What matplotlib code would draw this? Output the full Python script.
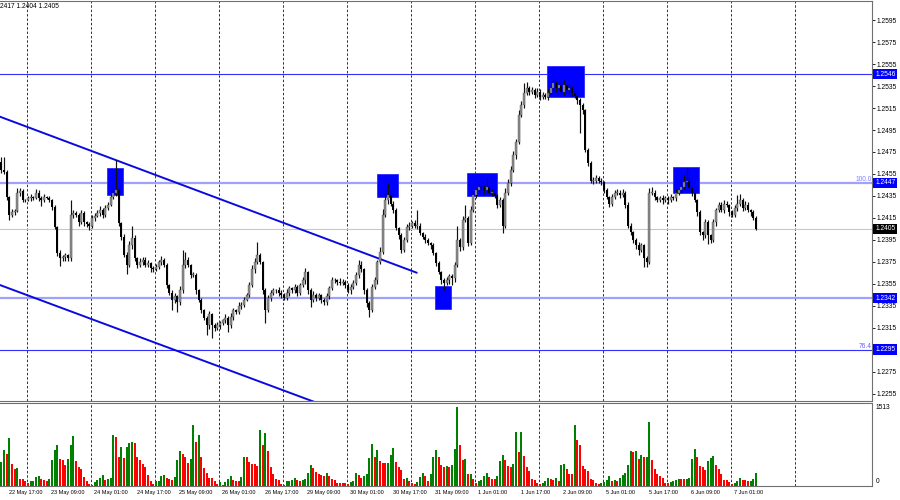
import numpy as np
import matplotlib
matplotlib.use("Agg")
import matplotlib.pyplot as plt
import matplotlib.transforms as mtransforms
from matplotlib import font_manager
from matplotlib.patches import Rectangle

# GBPUSD H1, 22 May 15:00 .. 7 Jun 11:00 (server time)
# prices kept in pips above 1.2000
first_open = 466
close_pips = [
    459, 457, 434, 418, 420, 421, 438, 439, 431, 431,
    433, 434, 433, 438, 433, 431, 434, 433, 431, 425,
    407, 383, 378, 379, 381, 378, 418, 419, 418, 411,
    419, 411, 409, 408, 415, 417, 419, 422, 418, 424,
    427, 434, 438, 440, 410, 398, 381, 372, 390, 397,
    378, 372, 375, 377, 372, 374, 369, 368, 370, 375,
    377, 372, 354, 347, 340, 344, 338, 349, 372, 377,
    372, 363, 363, 349, 340, 331, 324, 317, 327, 317,
    315, 317, 319, 322, 324, 317, 325, 331, 329, 335,
    336, 340, 345, 354, 368, 375, 381, 375, 349, 331,
    342, 347, 349, 349, 347, 345, 342, 347, 351, 349,
    352, 347, 354, 358, 366, 349, 340, 345, 342, 345,
    340, 338, 344, 351, 358, 358, 357, 356, 357, 354,
    349, 352, 356, 363, 372, 368, 349, 337, 331, 352,
    358, 375, 384, 418, 431, 436, 428, 422, 406, 399,
    386, 395, 407, 408, 410, 408, 408, 401, 398, 395,
    392, 390, 383, 374, 366, 358, 356, 358, 362, 360,
    372, 395, 388, 413, 415, 392, 422, 436, 440, 443,
    442, 440, 443, 438, 438, 435, 427, 431, 408, 438,
    447, 459, 472, 484, 509, 518, 529, 533, 530, 531,
    527, 530, 525, 527, 525, 529, 533, 538, 533, 536,
    530, 536, 531, 533, 529, 526, 522, 518, 513, 477,
    465, 449, 449, 451, 449, 448, 440, 434, 428, 434,
    438, 438, 436, 438, 427, 408, 402, 395, 390, 386,
    390, 378, 375, 438, 438, 434, 431, 433, 431, 433,
    431, 434, 433, 438, 440, 443, 448, 449, 442, 438,
    431, 420, 402, 399, 411, 399, 395, 411, 422, 427,
    422, 428, 427, 420, 418, 424, 428, 431, 424, 427,
    422, 420, 415, 405]

wick_up = [
    4, 11, 2, 1, 3, 2, 4, 3, 2, 1,
    2, 3, 1, 3, 2, 2, 3, 1, 2, 1,
    2, 1, 3, 2, 2, 1, 13, 3, 2, 1,
    3, 2, 1, 2, 3, 2, 3, 4, 2, 3,
    2, 3, 4, 28, 2, 1, 2, 3, 4, 11,
    2, 1, 3, 2, 2, 3, 1, 2, 3, 2,
    3, 1, 2, 1, 2, 3, 1, 4, 14, 7,
    2, 1, 3, 2, 1, 2, 1, 2, 3, 1,
    2, 3, 2, 1, 3, 2, 3, 2, 1, 3,
    2, 3, 2, 3, 4, 3, 12, 2, 1, 2,
    3, 2, 2, 1, 3, 2, 2, 3, 2, 1,
    3, 2, 2, 3, 3, 1, 2, 3, 2, 2,
    1, 2, 3, 2, 3, 2, 1, 3, 2, 1,
    2, 3, 2, 3, 5, 4, 1, 2, 2, 3,
    3, 2, 4, 5, 9, 11, 4, 2, 2, 1,
    2, 3, 2, 3, 2, 3, 14, 2, 1, 2,
    2, 1, 2, 1, 2, 1, 2, 3, 2, 2,
    3, 13, 2, 4, 12, 2, 4, 3, 2, 3,
    2, 3, 8, 2, 3, 1, 2, 3, 2, 4,
    3, 3, 4, 3, 4, 3, 9, 6, 2, 3,
    2, 3, 2, 3, 2, 3, 3, 3, 2, 3,
    2, 5, 2, 3, 2, 2, 1, 2, 2, 1,
    2, 2, 3, 3, 2, 2, 1, 2, 1, 3,
    2, 3, 2, 3, 1, 2, 2, 1, 2, 3,
    2, 1, 2, 4, 5, 2, 1, 2, 3, 2,
    2, 3, 1, 3, 2, 8, 6, 11, 2, 1,
    2, 1, 2, 1, 3, 2, 1, 3, 2, 2,
    2, 3, 2, 1, 2, 3, 8, 6, 2, 3,
    2, 1, 2, 2]

wick_dn = [
    3, 2, 3, 5, 2, 2, 1, 3, 2, 2,
    1, 3, 2, 1, 3, 5, 2, 1, 2, 3,
    2, 3, 7, 2, 3, 2, 2, 3, 2, 3,
    2, 3, 2, 4, 2, 3, 1, 2, 3, 2,
    2, 1, 2, 3, 2, 3, 2, 8, 2, 3,
    2, 3, 2, 3, 2, 2, 3, 2, 1, 2,
    3, 2, 3, 2, 9, 3, 9, 2, 2, 3,
    2, 3, 2, 3, 2, 3, 2, 9, 3, 11,
    3, 2, 3, 2, 3, 6, 2, 3, 2, 2,
    3, 2, 1, 2, 2, 3, 2, 2, 3, 12,
    2, 3, 2, 2, 3, 3, 2, 2, 3, 2,
    2, 3, 2, 2, 3, 3, 6, 2, 3, 2,
    3, 2, 2, 3, 2, 2, 3, 2, 2, 3,
    2, 3, 2, 2, 3, 2, 3, 3, 6, 2,
    2, 3, 2, 2, 2, 3, 2, 3, 2, 3,
    3, 2, 2, 3, 2, 2, 3, 2, 2, 3,
    2, 3, 2, 3, 2, 3, 7, 2, 3, 6,
    3, 2, 3, 2, 2, 3, 2, 2, 3, 2,
    2, 3, 2, 2, 3, 2, 3, 2, 7, 2,
    2, 3, 2, 3, 2, 2, 3, 2, 3, 2,
    3, 2, 3, 2, 2, 3, 2, 2, 3, 2,
    2, 3, 2, 2, 3, 2, 3, 26, 3, 2,
    3, 2, 3, 2, 2, 3, 2, 2, 3, 2,
    2, 2, 3, 2, 3, 2, 3, 3, 3, 5,
    2, 8, 5, 2, 2, 3, 2, 2, 3, 2,
    3, 2, 2, 3, 2, 2, 2, 3, 2, 3,
    2, 3, 3, 4, 2, 8, 3, 2, 3, 2,
    2, 3, 2, 3, 2, 2, 3, 2, 3, 2,
    2, 3, 2, 1]

volumes = [
    463, 688, 624, 926, 431, 322, 347, 141, 129, 90,
    58, 96, 100, 174, 186, 141, 109, 105, 141, 508,
    688, 797, 514, 495, 399, 527, 797, 958, 482, 367,
    322, 174, 90, 45, 26, 77, 109, 154, 206, 109,
    129, 154, 990, 945, 553, 752, 540, 752, 836, 840,
    830, 559, 495, 431, 367, 206, 90, 45, 90, 96,
    186, 219, 161, 141, 109, 174, 508, 675, 624, 559,
    444, 527, 1170, 849, 990, 559, 347, 251, 154, 150,
    90, 45, 77, 26, 77, 141, 186, 109, 105, 100,
    174, 553, 553, 463, 418, 415, 379, 1074, 784, 1022,
    669, 367, 225, 141, 122, 45, 26, 90, 96, 109,
    154, 109, 105, 112, 129, 251, 412, 347, 270, 238,
    219, 186, 251, 186, 141, 109, 58, 55, 52, 50,
    45, 77, 90, 251, 206, 161, 193, 238, 547, 804,
    559, 688, 476, 444, 440, 450, 604, 733, 463, 367,
    302, 141, 154, 90, 58, 45, 77, 174, 257, 193,
    90, 238, 559, 688, 559, 399, 367, 386, 367, 412,
    707, 1513, 797, 495, 514, 225, 238, 141, 58, 90,
    109, 193, 257, 174, 141, 129, 186, 482, 604, 495,
    386, 367, 418, 1042, 656, 1042, 572, 367, 289, 141,
    109, 64, 45, 64, 90, 154, 129, 109, 154, 90,
    399, 431, 334, 238, 225, 1170, 881, 797, 379, 322,
    283, 129, 109, 64, 45, 64, 77, 109, 186, 96,
    109, 90, 154, 206, 257, 399, 675, 656, 675, 527,
    604, 559, 565, 1222, 495, 322, 238, 193, 154, 64,
    64, 77, 90, 122, 141, 138, 129, 141, 154, 514,
    707, 559, 386, 367, 302, 476, 540, 572, 412, 322,
    238, 122, 109, 77, 45, 64, 90, 154, 122, 109,
    90, 105, 129, 257]

time_bars = [-14, 2, 18, 34, 50, 66, 82, 98, 114, 130, 146, 162,
             178, 194, 210, 226, 242, 258, 274]
time_labels = ["22 May 01:00", "22 May 17:00", "23 May 09:00", "24 May 01:00",
               "24 May 17:00", "25 May 09:00", "26 May 01:00", "26 May 17:00",
               "29 May 09:00", "30 May 01:00", "30 May 17:00", "31 May 09:00",
               "1 Jun 01:00", "1 Jun 17:00", "2 Jun 09:00", "5 Jun 01:00",
               "5 Jun 17:00", "6 Jun 09:00", "7 Jun 01:00"]
day_bars = [9.75 + 24 * k for k in range(13)]

# analyst drawings (bar index, price)
zones = [(39.7, 45.7, 1.2436, 1.2460), (140.7, 148.6, 1.2434, 1.2455),
         (162.6, 168.6, 1.2332, 1.2353), (174.7, 185.7, 1.2435, 1.2456),
         (204.7, 218.6, 1.2525, 1.2553), (251.7, 261.7, 1.2438, 1.2461)]
channel_top = ([-0.5, 155.7], [1.25071, 1.23651])
channel_bot = ([-0.5, 125.0], [1.23538, 1.22405])
levels_thin = [1.2546, 1.2295]
levels_thick = [1.2447, 1.2342]
last_price = 1.2405
vol_max = 1513

# fonts: MT4 uses a narrow pixel font
names = {f.name for f in font_manager.fontManager.ttflist}
if "Liberation Sans Narrow" in names:
    font, fs_time, fs_price = "Liberation Sans Narrow", 4.7, 5.6
else:
    font, fs_time, fs_price = "Liberation Sans", 3.95, 4.8
plt.rcParams["font.family"] = [font, "DejaVu Sans"]

close = 1.2 + np.array(close_pips) / 1e4
opn = np.r_[1.2 + first_open / 1e4, close[:-1]]
hi = np.maximum(opn, close) + np.array(wick_up) / 1e4
lo = np.minimum(opn, close) - np.array(wick_dn) / 1e4
n = len(close)
idx = np.arange(n)
bull = close >= opn

fig = plt.figure(figsize=(9, 5), dpi=100)
fig.patch.set_facecolor("white")
W = 872 / 900
ax = fig.add_axes([0, 1 - 400.5 / 500, W, 399.5 / 500])
axv = fig.add_axes([0, 1 - 486 / 500, W, 83 / 500])

for a in (ax, axv):
    a.set_xlim(-0.5, 326.5)
    a.set_xticks([])
    a.spines["left"].set_visible(False)
    for s in ("top", "right", "bottom"):
        a.spines[s].set_color("#707070")
        a.spines[s].set_linewidth(0.8)
    for d in day_bars:
        a.axvline(d, color="#303030", lw=0.7, ls=(0, (2.5, 2)), zorder=0)

ax.set_ylim(1.224865, 1.26125)

# levels and channel
for lv in levels_thin:
    ax.axhline(lv, color="#3030ff", lw=0.8, zorder=1)
for lv in levels_thick:
    ax.axhline(lv, color="#a0a0ff", lw=1.6, zorder=1)
ax.axhline(last_price, color="#c8c8c8", lw=0.8, zorder=1)
ax.plot(*channel_top, color="#0a0ae0", lw=1.4, zorder=1.5)
ax.plot(*channel_bot, color="#0a0ae0", lw=1.4, zorder=1.5)

for x0, x1, p0, p1 in zones:
    ax.add_patch(Rectangle((x0, p0), x1 - x0, p1 - p0, fc="#0000ff",
                           ec="#2a2aff", lw=0.6, zorder=2))

# candles
ax.vlines(idx, lo, hi, color="#111111", lw=0.85, zorder=3)
body = np.maximum(np.abs(close - opn), 0.00006)
bottom = np.minimum(opn, close)
ax.bar(idx[bull], body[bull], bottom=bottom[bull], width=0.75,
       color="#8e8e8e", edgecolor="#404040", lw=0.25, zorder=4)
ax.bar(idx[~bull], body[~bull], bottom=bottom[~bull], width=0.75,
       color="black", lw=0, zorder=4)

# right price scale
ticks = np.round(np.arange(1.2255, 1.2600, 0.002), 4)
ax.yaxis.tick_right()
ax.set_yticks(ticks)
ax.set_yticklabels([f"{t:.4f}" for t in ticks])
ax.tick_params(axis="y", length=2.2, width=0.6, pad=0.8, labelsize=fs_price,
               colors="black")
trans = mtransforms.blended_transform_factory(ax.transAxes, ax.transData)
for lv in levels_thin + levels_thick:
    ax.text(1.0035, lv, f"{lv:.4f}", transform=trans, ha="left", va="center",
            fontsize=fs_price, color="white", clip_on=False, zorder=10,
            bbox=dict(boxstyle="square,pad=0.25", fc="#0000ff", ec="none"))
ax.text(1.0035, last_price, f"{last_price:.4f}", transform=trans, ha="left",
        va="center", fontsize=fs_price, color="white", clip_on=False, zorder=10,
        bbox=dict(boxstyle="square,pad=0.25", fc="black", ec="none"))
ax.text(0.9995, 1.2447, "100.0", transform=trans, ha="right", va="bottom",
        fontsize=fs_price, color="#8080ff")
ax.text(0.9995, 1.2295, "76.4", transform=trans, ha="right", va="bottom",
        fontsize=fs_price, color="#6060ff")
fig.text(0.0, 1 - 6.5 / 500, "2417 1.2404 1.2405", ha="left", va="center",
         fontsize=fs_price, color="black")

# volumes
vol = np.array(volumes)
rising = np.r_[True, vol[1:] > vol[:-1]]
vcol = np.where(rising, "#008000", "#ff0000")
axv.bar(idx, vol, width=0.8, color=vcol, lw=0, zorder=2)
axv.set_ylim(0, vol_max * 1.055)
axv.set_yticks([])
axv.text(1.004, vol_max, str(vol_max), transform=axv.get_yaxis_transform(),
         ha="left", va="center", fontsize=fs_price, clip_on=False)
axv.text(1.004, 85, "0", transform=axv.get_yaxis_transform(),
         ha="left", va="center", fontsize=fs_price, clip_on=False)

# time axis
tt = mtransforms.blended_transform_factory(axv.transData, fig.transFigure)
for b, lab in zip(time_bars, time_labels):
    axv.text(b + 0.7, 1 - 492.5 / 500, lab, transform=tt, ha="left",
             va="center", fontsize=fs_time, clip_on=False)

fig.savefig("out.png", dpi=100, facecolor="white")
